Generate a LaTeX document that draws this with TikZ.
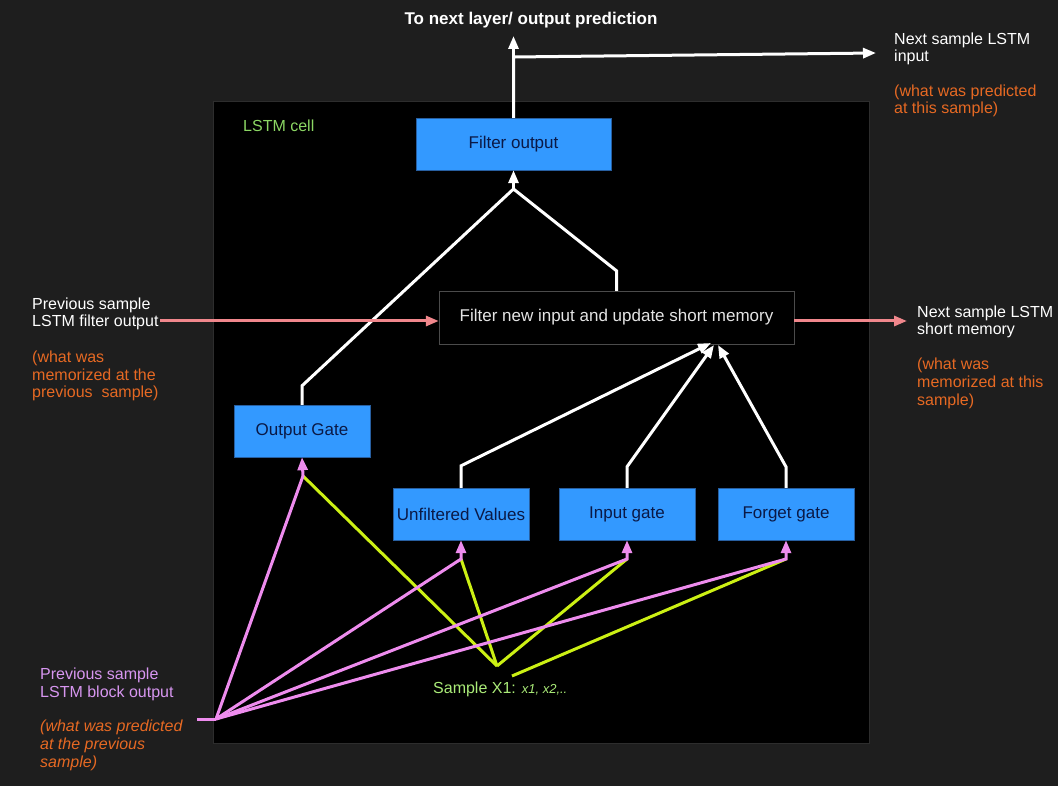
\documentclass[tikz,border=0pt]{standalone}
\usepackage{fontspec}
\setmainfont{Liberation Sans}
\usetikzlibrary{arrows.meta}
\definecolor{bgdark}{RGB}{30,30,30}
\definecolor{celledge}{RGB}{45,45,45}
\definecolor{gateblue}{RGB}{51,153,255}
\definecolor{gateedge}{RGB}{40,95,160}
\definecolor{gatetext}{RGB}{10,25,70}
\definecolor{memedge}{RGB}{75,75,75}
\definecolor{memtext}{RGB}{228,228,228}
\definecolor{salmonline}{RGB}{240,135,140}
\definecolor{violetline}{RGB}{238,140,238}
\definecolor{limeline}{RGB}{204,240,20}
\definecolor{notetext}{RGB}{230,105,35}
\definecolor{celltext}{RGB}{140,215,100}
\definecolor{sampletext}{RGB}{170,235,120}
\definecolor{blocktext}{RGB}{215,150,240}
\tikzstyle{gate} = [rectangle, fill=gateblue, draw=gateedge, minimum width=136pt, minimum height=52pt, inner sep=2pt, text=gatetext, font=\fontsize{17}{20}\selectfont]
\tikzstyle{memory} = [rectangle, fill=black, draw=memedge, minimum width=355pt, minimum height=53pt, text=memtext, font=\fontsize{17}{20}\selectfont]
\tikzstyle{side} = [anchor=base west, align=left, inner sep=0pt, text=white, font=\fontsize{16}{17.6}\selectfont]
\tikzstyle{tip} = [-{Triangle[length=13pt,width=10pt]}]
\tikzstyle{whitewire} = [line width=3pt, draw=white]
\tikzstyle{salmonwire} = [line width=3pt, draw=salmonline]
\tikzstyle{violetwire} = [line width=3pt, draw=violetline]
\tikzstyle{limewire} = [line width=3pt, draw=limeline]

\begin{document}
\begin{tikzpicture}[x=1pt,y=-1pt]
	\fill[bgdark] (0,0) rectangle (1058,786);
	\useasboundingbox (0,0) rectangle (1058,786);
	\node[fill=black, draw=celledge, minimum width=656pt, minimum height=642pt, inner sep=0pt] (cell) at (541,422) {};
	\node[side, text=celltext] (cellname) at (243,132) {LSTM cell};

	% boxes of the cell
	\node[gate, minimum width=195pt] (fo) at (513.5,144) {Filter output};
	\node[memory] (fm) at (616.5,317.5) {Filter new input and update short memory};
	\node[gate] (og) at (302,431) {Output Gate};
	\node[gate] (uv) at (461,514) {Unfiltered Values};
	\node[gate] (ig) at (627,514) {Input gate};
	\node[gate] (fg) at (786,514) {Forget gate};

	% texts outside the cell (base = last line)
	\node[anchor=base, inner sep=0pt, text=white, font=\fontsize{17}{20}\selectfont\bfseries] (tonext) at (531,25) {To next layer/ output prediction};
	\node[side] (nextin) at (894,62) {Next sample LSTM\\input};
	\node[side, text=notetext] (nextinnote) at (894,114) {(what was predicted\\at this sample)};
	\node[side] (prevfilter) at (32,327) {Previous sample\\LSTM filter output};
	\node[side, text=notetext] (prevfilternote) at (32,398) {(what was\\memorized at the\\previous\ \ sample)};
	\node[side] (nextmem) at (917,335) {Next sample LSTM\\short memory};
	\node[side, text=notetext] (nextmemnote) at (917,405) {(what was\\memorized at this\\sample)};
	\node[side, text=blocktext] (prevblock) at (40,697) {Previous sample\\LSTM block output};
	\node[side, text=notetext, font=\fontsize{16}{17.6}\selectfont\itshape] (prevblocknote) at (40,767) {(what was predicted\\at the previous\\sample)};
	\node[side, text=sampletext] (sample) at (433,693) {Sample X1: {\fontsize{13}{15}\selectfont\itshape x1, x2,..}};

	% points where the lines meet
	\coordinate (split) at (513.5,57);
	\coordinate (uptip) at (513.5,36);
	\coordinate (nexttip) at (876,53);
	\coordinate (fojoin) at (513.5,189);
	\coordinate (pf) at (160,321);
	\coordinate (nm) at (907,321);
	\coordinate (blkstart) at (197,719);
	\coordinate (blk) at (216,719);
	\coordinate (smp) at (497,666);
	\coordinate (smpb) at (512,676);
	\coordinate (ogin) at (303,476);
	\coordinate (uvin) at (461,559);
	\coordinate (igin) at (627,559);
	\coordinate (fgin) at (786,559);

	% white arrows
	\draw[whitewire, tip] (fo.north) -- (split) -- (nexttip);
	\draw[whitewire, tip] (split) -- (uptip);
	\draw[whitewire] (og.north) -- ++(0,-19) -- (fojoin);
	\draw[whitewire] (fm.north) -- ++(0,-20) -- (fojoin);
	\draw[whitewire, tip] (fojoin) -- (fo.south);
	\draw[whitewire, tip] (uv.north) -- ++(0,-22) -- (711,343);
	\draw[whitewire, tip] (ig.north) -- ++(0,-21) -- (714,345);
	\draw[whitewire, tip] (fg.north) -- ++(0,-21) -- (718,345);

	% short memory in and out
	\draw[salmonwire, tip] (pf) -- (pf -| fm.west);
	\draw[salmonwire, tip] (pf -| fm.east) -- (nm);

	% sample inputs
	\draw[limewire] (smp) -- (ogin);
	\draw[limewire] (smp) -- (uvin);
	\draw[limewire] (smp) -- (igin);
	\draw[limewire] (smpb) -- (fgin);

	% previous block output
	\draw[violetwire] (blkstart) -- (blk);
	\draw[violetwire, tip] (blk) -- (ogin) -- (og.south);
	\draw[violetwire, tip] (blk) -- (uvin) -- (uv.south);
	\draw[violetwire, tip] (blk) -- (igin) -- (ig.south);
	\draw[violetwire, tip] (blk) -- (fgin) -- (fg.south);
\end{tikzpicture}
\end{document}
